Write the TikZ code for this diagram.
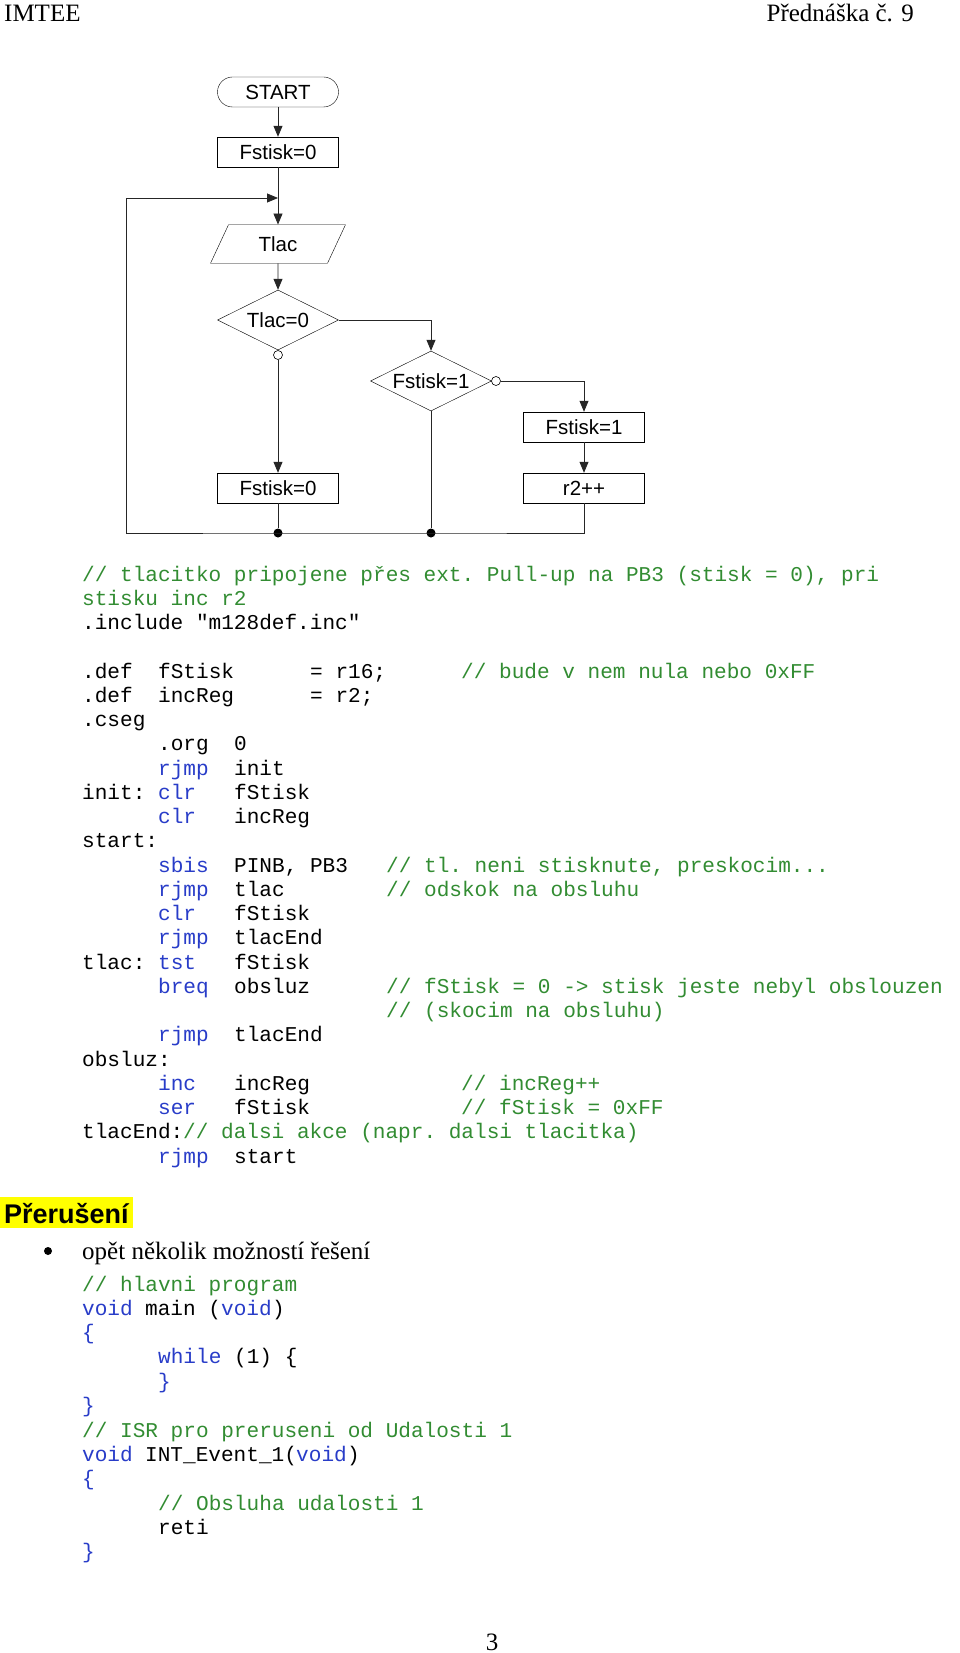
\documentclass[tikz,border=0pt]{standalone}
\usepackage{fontspec}
\setmainfont{Liberation Serif}
\setsansfont{Liberation Sans}
\setmonofont{Liberation Mono}
\usetikzlibrary{shapes.geometric,arrows.meta}
\definecolor{kw}{RGB}{40,60,200}
\definecolor{cm}{RGB}{50,140,50}
\definecolor{hl}{RGB}{255,255,0}
\newcommand{\cl}[4][black]{\node[codetxt,text=#1] at (#2,#3) {#4};}
\begin{document}
\begin{tikzpicture}[x=1pt,y=-1pt,
  box/.style={draw,rectangle,minimum width=121pt,minimum height=30pt,inner sep=0pt,font=\sffamily\fontsize{20.5}{22}\selectfont},
  dia/.style={draw,diamond,minimum width=121pt,minimum height=60pt,aspect=2.02,inner sep=0pt,font=\sffamily\fontsize{20.5}{22}\selectfont},
  ln/.style={line width=0.8pt,black!85},
  arr/.style={ln,-{Triangle[length=11pt,width=9pt]}},
  ocirc/.style={draw,circle,fill=white,minimum size=9pt,inner sep=0pt,line width=0.6pt},
  dot/.style={fill,circle,minimum size=9pt,inner sep=0pt},
  codetxt/.style={anchor=base west,inner sep=0pt,font=\ttfamily\fontsize{21.08}{24}\selectfont}]
\useasboundingbox (0,0) rectangle (960,1653);
% header
\node[anchor=base west,inner sep=0pt,font=\fontsize{25}{28}\selectfont] (hL) at (4,22) {IMTEE};
\node[anchor=base east,inner sep=0pt,font=\fontsize{25}{28}\selectfont] (hR) at (914,22) {Přednáška č. 9};
% flowchart
\node[box,rounded corners=15pt] (start) at (278,92) {START};
\node[box] (f0) at (278,152) {Fstisk=0};
\coordinate (j1) at (278,198);
\node[draw,trapezium,trapezium left angle=65,trapezium right angle=115,minimum width=135pt,minimum height=30pt,inner sep=0pt,font=\sffamily\fontsize{20.5}{22}\selectfont] (tlac) at (278,244) {Tlac};
\node[dia] (d1) at (278,320) {Tlac=0};
\node[dia] (d2) at (431,381) {Fstisk=1};
\node[ocirc] (oc1) at (278,355) {};
\node[ocirc] (oc2) at (496,381) {};
\node[box] (f0b) at (278,488) {Fstisk=0};
\node[box] (f1) at (584,427) {Fstisk=1};
\node[box] (r2) at (584,488) {r2++};
\node[dot] (dt1) at (278,533) {};
\node[dot] (dt2) at (431,533) {};
\coordinate (cl) at (126,533);
\draw[arr] (start) -- (f0);
\draw[ln] (f0) -- (j1);
\draw[arr] (j1) -- (tlac);
\draw[arr] (tlac) -- (d1);
\draw[ln] (d1.south) -- (oc1);
\draw[arr] (oc1) -- (f0b);
\draw[arr] (d1.east) -| (d2.north);
\draw[ln] (d2.east) -- (oc2);
\draw[arr] (oc2) -| (f1);
\draw[arr] (f1) -- (r2);
\draw[ln] (f0b) -- (dt1);
\draw[ln] (d2.south) -- (dt2);
\draw[ln] (r2.south) |- (dt2.center) -- (dt1.center) -- (cl);
\draw[arr] (cl) |- (j1);
% code block 1
\cl[cm]{82}{581}{// tlacitko pripojene přes ext. Pull-up na PB3 (stisk = 0), pri}
\cl[cm]{82}{605.25}{stisku inc r2}
\cl{82}{629.5}{.include "m128def.inc"}
\cl{82}{678}{.def}\cl{158}{678}{fStisk}\cl{310}{678}{= r16;}\cl[cm]{461}{678}{// bude v nem nula nebo 0xFF}
\cl{82}{702.25}{.def}\cl{158}{702.25}{incReg}\cl{310}{702.25}{= r2;}
\cl{82}{726.5}{.cseg}
\cl{158}{750.75}{.org}\cl{234}{750.75}{0}
\cl[kw]{158}{775}{rjmp}\cl{234}{775}{init}
\cl{82}{799.25}{init:}\cl[kw]{158}{799.25}{clr}\cl{234}{799.25}{fStisk}
\cl[kw]{158}{823.5}{clr}\cl{234}{823.5}{incReg}
\cl{82}{847.75}{start:}
\cl[kw]{158}{872}{sbis}\cl{234}{872}{PINB, PB3}\cl[cm]{386}{872}{// tl. neni stisknute, preskocim...}
\cl[kw]{158}{896.25}{rjmp}\cl{234}{896.25}{tlac}\cl[cm]{386}{896.25}{// odskok na obsluhu}
\cl[kw]{158}{920.5}{clr}\cl{234}{920.5}{fStisk}
\cl[kw]{158}{944.75}{rjmp}\cl{234}{944.75}{tlacEnd}
\cl{82}{969}{tlac:}\cl[kw]{158}{969}{tst}\cl{234}{969}{fStisk}
\cl[kw]{158}{993.25}{breq}\cl{234}{993.25}{obsluz}\cl[cm]{386}{993.25}{// fStisk = 0 -> stisk jeste nebyl obslouzen}
\cl[cm]{386}{1017.5}{// (skocim na obsluhu)}
\cl[kw]{158}{1041.75}{rjmp}\cl{234}{1041.75}{tlacEnd}
\cl{82}{1066}{obsluz:}
\cl[kw]{158}{1090.25}{inc}\cl{234}{1090.25}{incReg}\cl[cm]{461}{1090.25}{// incReg++}
\cl[kw]{158}{1114.5}{ser}\cl{234}{1114.5}{fStisk}\cl[cm]{461}{1114.5}{// fStisk = 0xFF}
\cl{82}{1138.75}{tlacEnd:}\cl[cm]{183}{1138.75}{// dalsi akce (napr. dalsi tlacitka)}
\cl[kw]{158}{1163}{rjmp}\cl{234}{1163}{start}
% Preruseni
\fill[hl] (0,1197) rectangle (133,1228);
\node[anchor=base west,inner sep=0pt,font=\sffamily\bfseries\fontsize{27}{30}\selectfont] (prer) at (4,1223) {Přerušení};
\node[circle,fill,minimum size=8pt,inner sep=0pt] (bul) at (48,1251) {};
\node[anchor=base west,inner sep=0pt,font=\fontsize{25}{28}\selectfont] (btxt) at (82,1259) {opět několik možností řešení};
% code block 2
\cl[cm]{82}{1291}{// hlavni program}
\cl[kw]{82}{1315}{void}\cl{145}{1315}{main (}\cl[kw]{221}{1315}{void}\cl{272}{1315}{)}
\cl[kw]{82}{1339}{\{}
\cl[kw]{158}{1363}{while}\cl{234}{1363}{(1) \{}
\cl[kw]{158}{1388}{\}}
\cl[kw]{82}{1412}{\}}
\cl[cm]{82}{1437}{// ISR pro preruseni od Udalosti 1}
\cl[kw]{82}{1461}{void}\cl{145}{1461}{INT\_Event\_1(}\cl[kw]{296}{1461}{void}\cl{347}{1461}{)}
\cl[kw]{82}{1485}{\{}
\cl[cm]{158}{1510}{// Obsluha udalosti 1}
\cl{158}{1534}{reti}
\cl[kw]{82}{1558}{\}}
\node[anchor=base,inner sep=0pt,font=\fontsize{25}{28}\selectfont] (pg) at (492,1650) {3};
\end{tikzpicture}
\end{document}
